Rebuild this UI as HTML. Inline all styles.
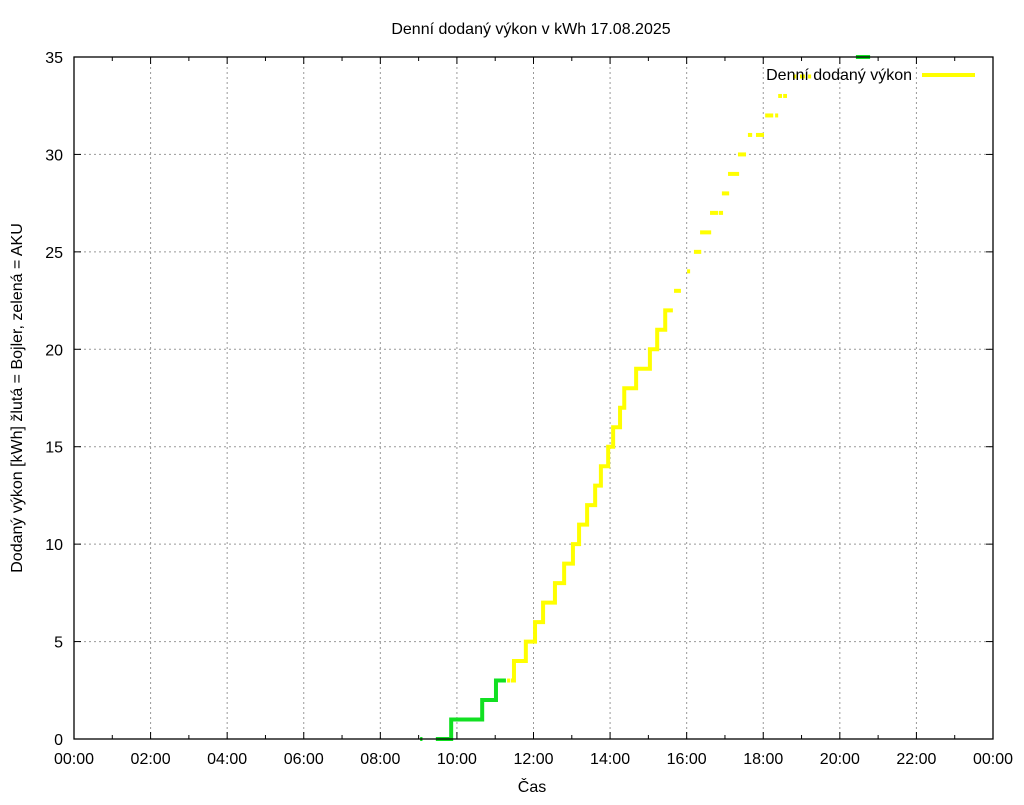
<!DOCTYPE html>
<html><head><meta charset="utf-8"><style>
body{margin:0;background:#fff}
svg text{font-family:"Liberation Sans",sans-serif;fill:#000}
</style></head><body>
<svg id="chart" width="1024" height="800" xmlns="http://www.w3.org/2000/svg">
<text x="531" y="34" font-size="16" text-anchor="middle">Denní dodaný výkon v kWh 17.08.2025</text>
<text transform="translate(22,398) rotate(-90)" font-size="16" text-anchor="middle">Dodaný výkon [kWh]  žlutá = Bojler, zelená = AKU</text>
<text x="532" y="792" font-size="16" text-anchor="middle">Čas</text>
<g id="grid"></g>
<g id="marks"></g>
<rect x="74" y="57" width="919" height="682" fill="none" stroke="#000" stroke-width="1.3"/>
<g id="ticks"></g>
<g>
<text x="912" y="80" font-size="16" text-anchor="end">Denní dodaný výkon</text>
<line x1="922" y1="75" x2="975" y2="75" stroke="#ffff00" stroke-width="4"/>
</g>
</svg>
<script>
const xTickLabels=["00:00","02:00","04:00","06:00","08:00","10:00","12:00","14:00","16:00","18:00","20:00","22:00","00:00"];
const yTicks=[0,5,10,15,20,25,30,35];
const greenTimes=[9.45,9.85,10.66,11.02];
const greenValues=[0,1,2,3];
const greenEnd=11.28;
const yellowTimes=[11.41,11.49,11.80,12.04,12.25,12.56,12.80,13.03,13.19,13.40,13.61,13.76,13.95,14.08,14.26,14.37,14.68,15.04,15.23,15.44];
const yellowValues=[3,4,5,6,7,8,9,10,11,12,13,14,15,16,17,18,19,20,21,22];
const yellowEnd=15.64;
const dashStart=[9.04,11.31,15.67,16.01,16.19,16.35,16.61,16.84,16.92,17.08,17.34,17.60,17.81,18.05,18.31,18.39,18.52,18.78,18.96,19.17,20.42];
const dashEnd=[9.10,11.39,15.85,16.09,16.38,16.64,16.82,16.95,17.11,17.37,17.55,17.71,18.02,18.26,18.39,18.49,18.62,18.86,19.09,19.25,20.79];
const dashValue=[0,3,23,24,25,26,27,27,28,29,30,31,31,32,32,33,33,34,34,34,35];
const dashColor=["g","y","y","y","y","y","y","y","y","y","y","y","y","y","y","y","y","y","y","y","g"];
const X0=74,X1=993,Y0=739,Y1=57;
const xs=h=>X0+h/24*(X1-X0);
const ys=v=>Y0-v/35*(Y0-Y1);
const NS="http://www.w3.org/2000/svg";
function mk(tag,attrs,parent){const e=document.createElementNS(NS,tag);for(const k in attrs)e.setAttribute(k,attrs[k]);document.getElementById(parent).appendChild(e);return e;}
for(let h=0;h<=24;h++){
 const x=xs(h),major=h%2===0,len=major?7:4;
 if(major&&h>0&&h<24){const g=mk("line",{x1:x,y1:Y0,x2:x,y2:Y1,stroke:"#999","stroke-dasharray":"2,3"},"grid");
 
 }
 const t=mk("line",{x1:x,y1:Y0,x2:x,y2:Y0-len,stroke:"#000"},"ticks");
 
 
 const t2=mk("line",{x1:x,y1:Y1,x2:x,y2:Y1+len,stroke:"#000"},"ticks");
 
 
 if(major){const l=mk("text",{x:x,y:Y0+25,"font-size":16,"text-anchor":"middle"},"ticks");l.textContent=xTickLabels[h/2];
 
 }
}
yTicks.forEach(v=>{
 const y=ys(v);
 if(v>0&&v<35){const g=mk("line",{x1:X0,y1:y,x2:X1,y2:y,stroke:"#999","stroke-dasharray":"2,3"},"grid");
 
 }
 const t=mk("line",{x1:X0,y1:y,x2:X0+7,y2:y,stroke:"#000"},"ticks");
 
 
 const t2=mk("line",{x1:X1,y1:y,x2:X1-7,y2:y,stroke:"#000"},"ticks");
 
 
 const l=mk("text",{x:X0-11,y:y+6,"font-size":16,"text-anchor":"end"},"ticks");l.textContent=v;
 
 
});
function stepPath(times,vals,end){let d="M"+xs(times[0])+","+ys(vals[0]);
 for(let i=1;i<times.length;i++){d+=" L"+xs(times[i])+","+ys(vals[i-1])+" L"+xs(times[i])+","+ys(vals[i]);}
 d+=" L"+xs(end)+","+ys(vals[vals.length-1]);return d;}
const gp=mk("path",{d:stepPath(greenTimes,greenValues,greenEnd),fill:"none",stroke:"#11e022","stroke-width":4},"marks");


const yp=mk("path",{d:stepPath(yellowTimes,yellowValues,yellowEnd),fill:"none",stroke:"#ffff00","stroke-width":4},"marks");


dashStart.forEach((s,i)=>{
 const d=mk("line",{x1:xs(s),y1:ys(dashValue[i]),x2:xs(dashEnd[i]),y2:ys(dashValue[i]),stroke:dashColor[i]==="g"?"#11e022":"#ffff00","stroke-width":4},"marks");
 
 
});
</script>
</body></html>
